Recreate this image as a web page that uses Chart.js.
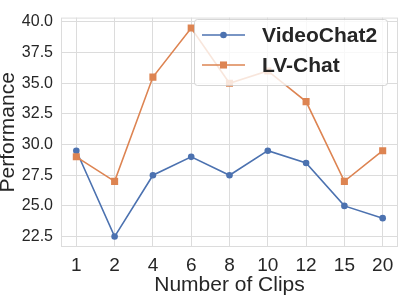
<!DOCTYPE html>
<html>
<head>
<meta charset="utf-8">
<script src="https://cdn.jsdelivr.net/npm/chart.js@4.4.1/dist/chart.umd.min.js"></script>
<style>
  html, body { margin: 0; padding: 0; background: #ffffff; }
  #wrap { width: 407px; height: 305px; }
</style>
</head>
<body>
<div id="wrap"><canvas id="clipsChart" width="407" height="305"></canvas></div>
<script>
// Chart values
const clipCounts = ['1', '2', '4', '6', '8', '10', '12', '15', '20'];
const videoChat2Scores = [29.5, 22.5, 27.5, 29.0, 27.5, 29.5, 28.5, 25.0, 24.0];
const lvChatScores = [29.0, 27.0, 35.5, 39.5, 35.0, 36.0, 33.5, 27.0, 29.5];
const yTickValues = [22.5, 25.0, 27.5, 30.0, 32.5, 35.0, 37.5, 40.0];

const TEXT = '#262626';
const GRID = '#dcdcdc';
const BLUE = '#4c72b0';
const ORANGE = '#dd8452';

function toPoints(values) {
    return values.map((v, i) => ({ x: i, y: v }));
}

// Frame round the plot area (all four spines, seaborn whitegrid style)
const framePlugin = {
    id: 'frame',
    beforeDatasetsDraw(chart) {
        const { ctx, chartArea: a } = chart;
        ctx.save();
        ctx.strokeStyle = GRID;
        ctx.lineWidth = 1;
        ctx.strokeRect(a.left + 0.5, a.top + 0.5, a.right - a.left - 1, a.bottom - a.top - 1);
        ctx.restore();
    }
};

// Legend drawn inside the plot, over the lines, with a translucent box
const insideLegend = {
    id: 'insideLegend',
    afterDatasetsDraw(chart) {
        const ctx = chart.ctx;
        const box = { x: 194, y: 19, w: 193, h: 66 };
        ctx.save();
        ctx.beginPath();
        ctx.roundRect(box.x + 0.5, box.y + 0.5, box.w, box.h, 3);
        ctx.fillStyle = 'rgba(255,255,255,0.8)';
        ctx.fill();
        ctx.strokeStyle = 'rgba(204,204,204,0.8)';
        ctx.lineWidth = 1;
        ctx.stroke();

        const rows = [35, 65];
        chart.data.datasets.forEach((ds, i) => {
            const y = rows[i];
            ctx.strokeStyle = ds.borderColor;
            ctx.lineWidth = 1.6;
            ctx.beginPath();
            ctx.moveTo(202, y);
            ctx.lineTo(245, y);
            ctx.stroke();
            ctx.fillStyle = ds.pointBackgroundColor;
            ctx.strokeStyle = ds.pointBorderColor;
            Chart.helpers.drawPoint(ctx, {
                pointStyle: ds.pointStyle,
                radius: ds.pointRadius,
                rotation: 0,
                borderWidth: 0
            }, 223.5, y);
            ctx.fillStyle = TEXT;
            ctx.font = 'bold 21px "Liberation Sans", Arial, sans-serif';
            ctx.textBaseline = 'middle';
            ctx.textAlign = 'left';
            ctx.fillText(ds.label, 262, y + 1);
        });
        ctx.restore();
    }
};

const ctx = document.getElementById('clipsChart').getContext('2d');
const chart = new Chart(ctx, {
    type: 'line',
    data: {
        datasets: [
            {
                label: 'VideoChat2',
                data: toPoints(videoChat2Scores),
                borderColor: BLUE,
                backgroundColor: BLUE,
                pointBackgroundColor: BLUE,
                pointBorderColor: BLUE,
                pointStyle: 'circle',
                pointRadius: 3.3,
                pointBorderWidth: 0,
                borderWidth: 1.6,
                tension: 0,
                order: 1
            },
            {
                label: 'LV-Chat',
                data: toPoints(lvChatScores),
                borderColor: ORANGE,
                backgroundColor: ORANGE,
                pointBackgroundColor: ORANGE,
                pointBorderColor: ORANGE,
                pointStyle: 'rect',
                pointRadius: 5,
                pointBorderWidth: 0,
                borderWidth: 1.6,
                tension: 0,
                order: 0
            }
        ]
    },
    options: {
        responsive: false,
        devicePixelRatio: 1,
        animation: false,
        layout: { padding: { left: 0, top: 10, right: 9, bottom: 0 } },
        plugins: {
            legend: { display: false },
            tooltip: { enabled: false }
        },
        scales: {
            x: {
                type: 'linear',
                min: -0.4,
                max: 8.4,
                afterBuildTicks(scale) {
                    scale.ticks = clipCounts.map((_, i) => ({ value: i }));
                },
                afterFit(scale) { scale.height = 58; },
                grid: { color: GRID, lineWidth: 1, drawTicks: false },
                border: { display: false },
                ticks: {
                    color: TEXT,
                    padding: 7,
                    maxRotation: 0,
                    autoSkip: false,
                    font: { family: '"Liberation Sans", Arial, sans-serif', size: 19 },
                    callback: value => clipCounts[value]
                },
                title: {
                    display: true,
                    text: 'Number of Clips',
                    color: TEXT,
                    font: { family: '"Liberation Sans", Arial, sans-serif', size: 21, lineHeight: 1 },
                    padding: { top: 0, bottom: 9 }
                }
            },
            y: {
                min: 21.65,
                max: 40.35,
                afterBuildTicks(scale) {
                    scale.ticks = yTickValues.map(v => ({ value: v }));
                },
                afterFit(scale) { scale.width = 61; },
                grid: { color: GRID, lineWidth: 1, drawTicks: false },
                border: { display: false },
                ticks: {
                    color: TEXT,
                    padding: 8,
                    font: { family: '"Liberation Sans", Arial, sans-serif', size: 16 },
                    callback: value => value.toFixed(1)
                },
                title: {
                    display: true,
                    text: 'Performance',
                    color: TEXT,
                    font: { family: '"Liberation Sans", Arial, sans-serif', size: 21, lineHeight: 1 },
                    padding: { top: -2, bottom: 0 }
                }
            }
        }
    },
    plugins: [framePlugin, insideLegend]
});
</script>
</body>
</html>
